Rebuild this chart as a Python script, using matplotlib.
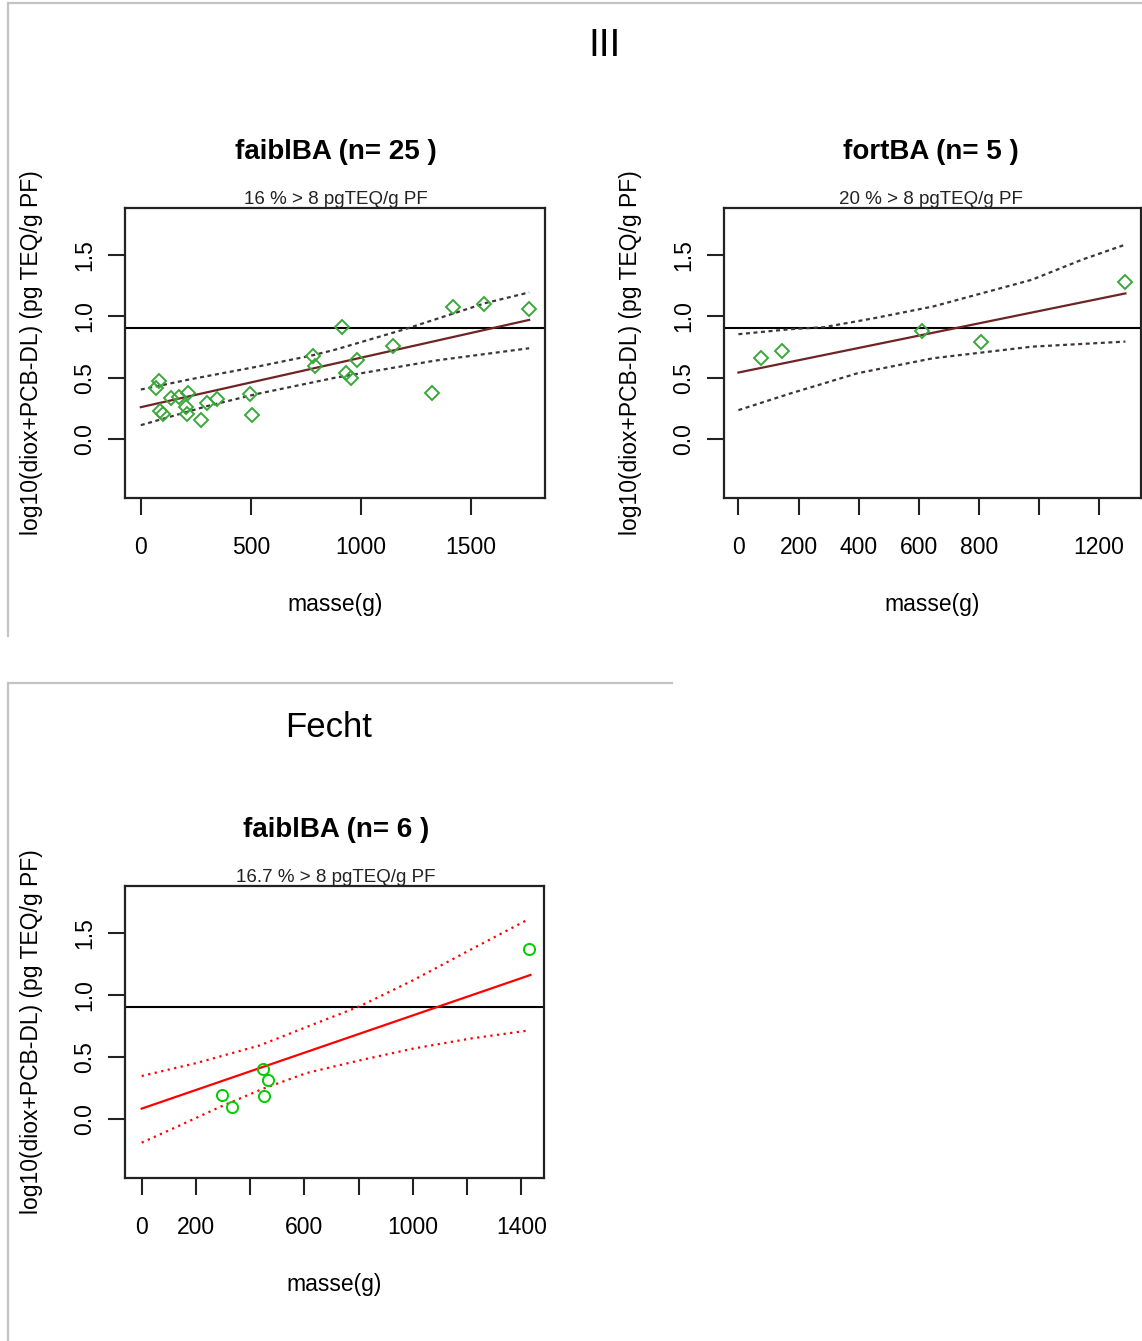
import numpy as np
import matplotlib
matplotlib.use('Agg')
import matplotlib.pyplot as plt
from matplotlib.lines import Line2D

plt.rcParams['font.family'] = ['Liberation Sans', 'DejaVu Sans']

W, H = 1142, 1341
SEUIL = np.log10(8)   # 8 pgTEQ/g PF

# ---- III : faiblBA (n=25) ----
faib_masse = [82, 67, 87, 99, 137, 175, 214, 206, 209, 273, 299, 346, 496, 504,
              782, 794, 916, 934, 957, 983, 1148, 1324, 1420, 1560, 1766]
faib_log = [0.474, 0.415, 0.23, 0.21, 0.333, 0.347, 0.38, 0.265, 0.203, 0.157,
            0.293, 0.33, 0.366, 0.198, 0.678, 0.599, 0.916, 0.542, 0.496, 0.645,
            0.762, 0.38, 1.071, 1.10, 1.058]
faib_fit_x = [0, 1766]
faib_fit_y = [0.262, 0.970]
faib_up_x = [0, 224, 530, 774, 881, 1202, 1568, 1766]
faib_up_y = [0.405, 0.488, 0.591, 0.68, 0.727, 0.895, 1.107, 1.193]
faib_lo_x = [0, 300, 530, 881, 1339, 1766]
faib_lo_y = [0.116, 0.27, 0.37, 0.50, 0.64, 0.74]

# ---- III : fortBA (n=5) ----
fort_masse = [74.5, 146, 610, 808, 1287]
fort_log = [0.659, 0.718, 0.881, 0.789, 1.274]
fort_fit_x = [0, 1288]
fort_fit_y = [0.543, 1.185]
fort_up_x = [0, 174, 285, 452, 648, 977, 1144, 1288]
fort_up_y = [0.854, 0.895, 0.911, 0.984, 1.079, 1.296, 1.459, 1.581]
fort_lo_x = [0, 174, 396, 648, 977, 1288]
fort_lo_y = [0.238, 0.374, 0.537, 0.659, 0.753, 0.794]

# ---- Fecht : faiblBA (n=6) ----
fecht_masse = [295, 334, 446, 467, 452, 1428]
fecht_log = [0.197, 0.094, 0.401, 0.312, 0.183, 1.374]
fecht_fit_x = [0, 1433]
fecht_fit_y = [0.084, 1.161]
fecht_up_x = [0, 203, 436, 608, 804, 1001, 1197, 1424]
fecht_up_y = [0.347, 0.452, 0.594, 0.742, 0.909, 1.119, 1.347, 1.608]
fecht_lo_x = [0, 141, 288, 448, 608, 804, 1001, 1210, 1431]
fecht_lo_y = [-0.19, -0.051, 0.097, 0.245, 0.371, 0.473, 0.568, 0.648, 0.715]

YLAB = 'log10(diox+PCB-DL) (pg TEQ/g PF)'

fig = plt.figure(figsize=(W / 100, H / 100), dpi=100)


def fpos(x, y):
    return x / W, 1 - y / H


def add_axes(left, top, right, bottom):
    return fig.add_axes([left / W, 1 - bottom / H, (right - left) / W, (bottom - top) / H])


def gray_line(x0, y0, x1, y1):
    (a, b), (c, d) = fpos(x0, y0), fpos(x1, y1)
    fig.add_artist(Line2D([a, c], [b, d], transform=fig.transFigure,
                          color='#c4c4c4', lw=1.6))


def draw_panel(ax, box, masse, logv, fit, up, lo, xlim, xticks, xlabels,
               marker, ms, pt_col, fit_col, band_col, dash):
    left, top, right, bottom = box
    ax.axhline(SEUIL, color='black', lw=1.5, zorder=2)
    ax.plot(fit[0], fit[1], color=fit_col, lw=1.6, zorder=3)
    ax.plot(up[0], up[1], color=band_col, lw=1.6, ls=(0, dash), zorder=3)
    ax.plot(lo[0], lo[1], color=band_col, lw=1.6, ls=(0, dash), zorder=3)
    ax.plot(masse, logv, ls='none', marker=marker, ms=ms, mfc='none',
            mec=pt_col, mew=1.4, zorder=4)
    ax.set_xlim(xlim)
    ax.set_ylim(-0.475, 1.878)
    ax.set_xticks(xticks)
    ax.set_xticklabels(xlabels)
    ax.set_yticks([0, 0.5, 1.0, 1.5])
    ax.set_yticklabels(['0.0', '0.5', '1.0', '1.5'], rotation=90, va='center')
    ax.tick_params(length=12, width=1.5, labelsize=16.5, direction='out', color='#222222')
    ax.tick_params(axis='x', pad=15)
    ax.tick_params(axis='y', pad=9)
    for s in ax.spines.values():
        s.set_linewidth(1.6)
        s.set_color('#222222')
    ax.set_xlabel('masse(g)', fontsize=16.5, va='center')
    ax.xaxis.set_label_coords(0.5, -106 / (bottom - top))
    ax.set_ylabel(YLAB, fontsize=16.5, va='center')
    ax.yaxis.set_label_coords(-93 / (right - left), 0.5)


def titles(cx, box_top, title, sub):
    x, y = fpos(cx, box_top - 49)
    fig.text(x, y, title, ha='center', va='baseline', fontsize=20, fontweight='bold')
    x, y = fpos(cx, box_top - 4)
    fig.text(x, y, sub, ha='center', va='baseline', fontsize=13.5, color='#222222')


# panel frames
gray_line(8, 3, 1142, 3)
gray_line(8, 3, 8, 636)
gray_line(8, 683, 672, 683)
gray_line(8, 683, 8, 1341)

x, y = fpos(605, 46)
fig.text(x, y, 'III', ha='center', va='center', fontsize=28)
x, y = fpos(329, 727)
fig.text(x, y, 'Fecht', ha='center', va='center', fontsize=25)

dark_fit, dark_band, green_dim = '#6e2424', '#3f3535', '#3aa83a'

box1 = (125, 208, 545, 498)
ax1 = add_axes(*box1)
draw_panel(ax1, box1, faib_masse, faib_log, (faib_fit_x, faib_fit_y),
           (faib_up_x, faib_up_y), (faib_lo_x, faib_lo_y), (-72, 1838),
           [0, 500, 1000, 1500], ['0', '500', '1000', '1500'],
           'D', 7, green_dim, dark_fit, dark_band, (1.8, 1.6))
titles(336, 208, 'faiblBA (n= 25 )', '16 % > 8 pgTEQ/g PF')

box2 = (724, 208, 1141, 498)
ax2 = add_axes(*box2)
draw_panel(ax2, box2, fort_masse, fort_log, (fort_fit_x, fort_fit_y),
           (fort_up_x, fort_up_y), (fort_lo_x, fort_lo_y), (-48, 1340),
           [0, 200, 400, 600, 800, 1000, 1200],
           ['0', '200', '400', '600', '800', '', '1200'],
           'D', 7, green_dim, dark_fit, dark_band, (1.8, 1.6))
titles(931, 208, 'fortBA (n= 5 )', '20 % > 8 pgTEQ/g PF')

box3 = (125, 886, 544, 1178)
ax3 = add_axes(*box3)
draw_panel(ax3, box3, fecht_masse, fecht_log, (fecht_fit_x, fecht_fit_y),
           (fecht_up_x, fecht_up_y), (fecht_lo_x, fecht_lo_y), (-61.5, 1483),
           [0, 200, 400, 600, 800, 1000, 1200, 1400],
           ['0', '200', '', '600', '', '1000', '', '1400'],
           'o', 8, '#00cd00', '#ff0000', '#ff0000', (1, 2))
titles(336, 886, 'faiblBA (n= 6 )', '16.7 % > 8 pgTEQ/g PF')

fig.savefig('out.png', dpi=100)
